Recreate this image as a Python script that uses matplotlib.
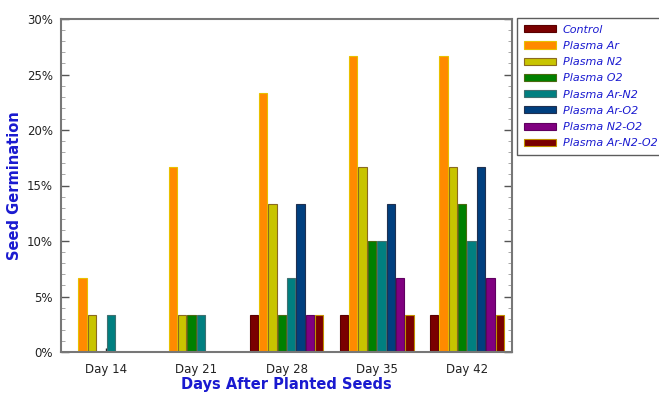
import numpy as np
import matplotlib.pyplot as plt
from matplotlib.ticker import MultipleLocator, FuncFormatter

days = ["Day 14", "Day 21", "Day 28", "Day 35", "Day 42"]
series_names = ["Control", "Plasma Ar", "Plasma N2", "Plasma O2",
                "Plasma Ar-N2", "Plasma Ar-O2", "Plasma N2-O2", "Plasma Ar-N2-O2"]

control = [0, 0, 3.33, 3.33, 3.33]
plasma_ar = [6.67, 16.67, 23.33, 26.67, 26.67]
plasma_n2 = [3.33, 3.33, 13.33, 16.67, 16.67]
plasma_o2 = [0, 3.33, 3.33, 10.0, 13.33]
plasma_ar_n2 = [3.33, 3.33, 6.67, 10.0, 10.0]
plasma_ar_o2 = [0, 0, 13.33, 13.33, 16.67]
plasma_n2_o2 = [0, 0, 3.33, 6.67, 6.67]
plasma_ar_n2_o2 = [0, 0, 3.33, 3.33, 3.33]

series_values = [control, plasma_ar, plasma_n2, plasma_o2,
                 plasma_ar_n2, plasma_ar_o2, plasma_n2_o2, plasma_ar_n2_o2]

fill_colors = ["#7a0000", "#ff8a00", "#c8c400", "#008000",
               "#007f80", "#003f7f", "#800080", "#7a0000"]
edge_colors = ["#5a0000", "#e8c000", "#8a6a20", "#4a6a10",
               "#407070", "#203050", "#600060", "#c09000"]

fig = plt.figure(figsize=(6.59, 3.94), dpi=100)
ax = fig.add_axes([61 / 659, 1 - 352 / 394, (512 - 61) / 659, (352 - 19) / 394])

x = np.arange(len(days))
slot = 0.104
width = 0.092
n = len(series_values)
for i, (name, vals) in enumerate(zip(series_names, series_values)):
    offs = (i - (n - 1) / 2) * slot
    ax.bar(x + offs, vals, width=width, color=fill_colors[i],
           edgecolor=edge_colors[i], linewidth=0.8, label=name, zorder=2)

ax.set_xlim(-0.5, len(days) - 0.5)
ax.set_ylim(0, 30)
ax.set_xticks(x)
ax.set_xticklabels(days)
ax.yaxis.set_major_locator(MultipleLocator(5))
ax.yaxis.set_minor_locator(MultipleLocator(1))
ax.yaxis.set_major_formatter(FuncFormatter(lambda v, p: f"{int(round(v))}%"))

ax.tick_params(axis="y", which="major", direction="in", length=6, width=1,
               color="#555555", labelsize=8.5, labelcolor="#222222",
               left=True, right=True, pad=6)
ax.tick_params(axis="y", which="minor", direction="in", length=3, width=0.6,
               color="#999999", left=True, right=True)
ax.tick_params(axis="x", which="major", direction="in", length=3, width=1,
               color="#222222", labelsize=8.5, labelcolor="#222222", pad=8)

for s in ax.spines.values():
    s.set_color("#777777")
    s.set_linewidth(1.5)

ax.set_ylabel("Seed Germination", color="#1a1ad0", fontsize=10.5,
              fontweight="bold")
ax.yaxis.set_label_coords(-0.087, 0.5)
ax.set_xlabel("Days After Planted Seeds", color="#1a1ad0", fontsize=10.5,
              fontweight="bold", labelpad=1)

leg = ax.legend(loc="upper left", bbox_to_anchor=(1.011, 1.003),
                fontsize=8, frameon=True, fancybox=False, borderpad=0.6,
                labelspacing=0.56, handlelength=2.9, handleheight=0.6,
                handletextpad=0.6, borderaxespad=0)
leg.get_frame().set_edgecolor("#333333")
leg.get_frame().set_linewidth(1.0)
for t in leg.get_texts():
    t.set_color("#1a1ad0")
    t.set_fontstyle("italic")

fig.savefig("out.png", dpi=100)
